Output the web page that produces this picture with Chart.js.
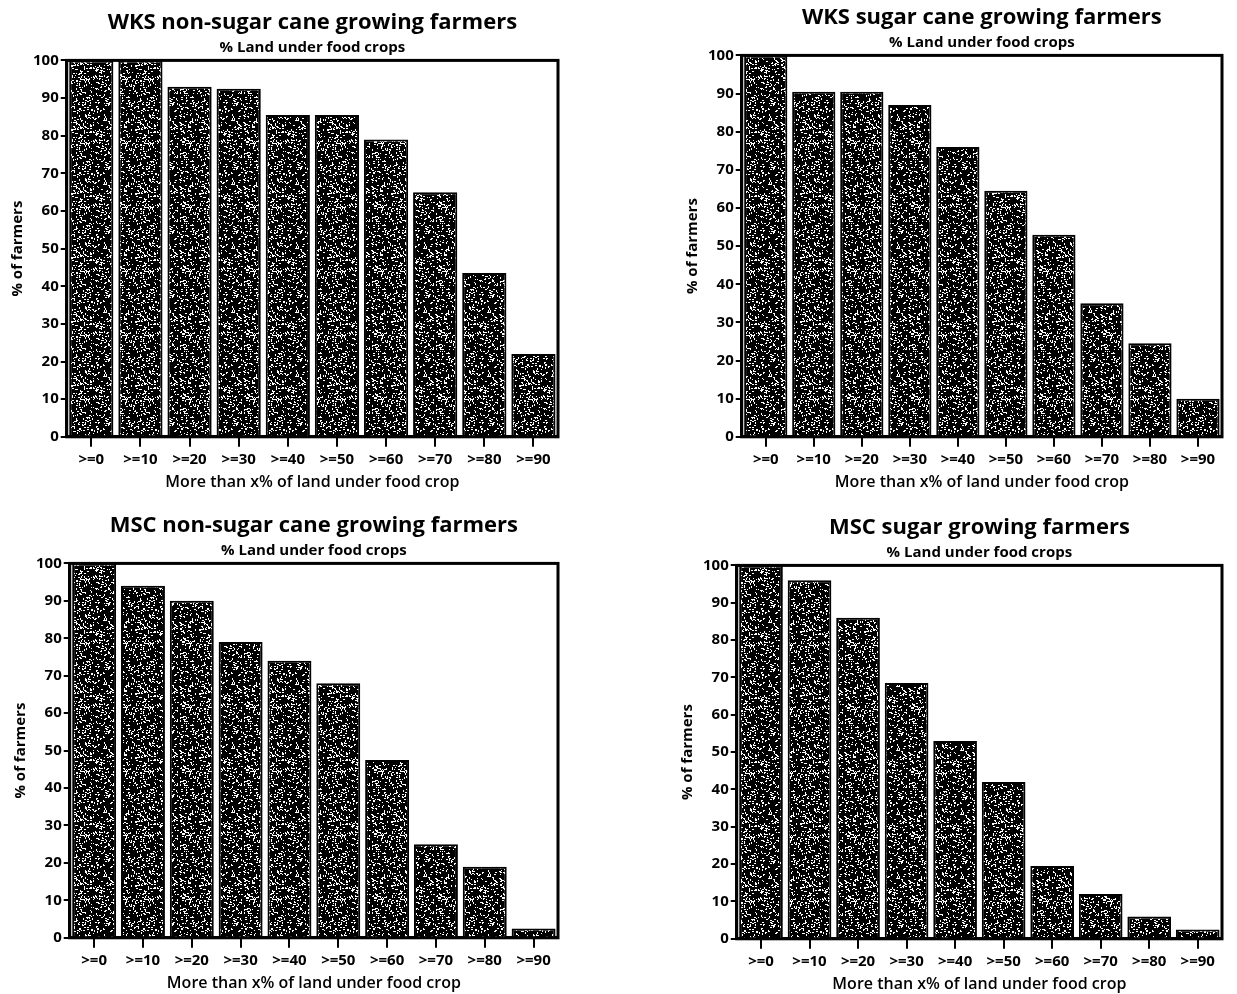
<!DOCTYPE html>
<html>
<head>
<meta charset="utf-8">
<script src="https://cdn.jsdelivr.net/npm/chart.js@4.4.1/dist/chart.umd.min.js"></script>
<style>
  body { margin: 0; background: #fff; width: 1237px; height: 994px; position: relative; overflow: hidden; }
  canvas { position: absolute; }
</style>
</head>
<body>
<canvas id="wksNon" width="578" height="500" style="left:0px;top:0px"></canvas>
<canvas id="wksSug" width="572" height="500" style="left:665px;top:0px"></canvas>
<canvas id="mscNon" width="578" height="494" style="left:0px;top:500px"></canvas>
<canvas id="mscSug" width="572" height="492" style="left:665px;top:502px"></canvas>
<script>
const categories = ['>=0', '>=10', '>=20', '>=30', '>=40', '>=50', '>=60', '>=70', '>=80', '>=90'];

// % of farmers
const wksNonSugar = [100, 100, 93, 92.5, 85.5, 85.5, 79, 65, 43.5, 22];
const wksSugar = [100, 90.5, 90.5, 87, 76, 64.5, 53, 35, 24.5, 10];
const mscNonSugar = [100, 94, 90, 79, 74, 68, 47.5, 25, 19, 2.5];
const mscSugar = [100, 96, 86, 68.5, 53, 42, 19.5, 12, 6, 2.5];

const subtitleText = '% Land under food crops';
const xTitle = 'More than x% of land under food crop';
const yTitle = '% of farmers';

Chart.defaults.font.family = "'Open Sans', 'DejaVu Sans', sans-serif";
Chart.defaults.color = '#000';

// black fill with little white flecks, like the printed screen
function makeStipple() {
  const size = 64;
  const c = document.createElement('canvas');
  c.width = size; c.height = size;
  const g = c.getContext('2d');
  g.fillStyle = '#000';
  g.fillRect(0, 0, size, size);
  g.fillStyle = '#fff';
  let s = 987654;
  const next = () => {
    s = (Math.imul(s, 1664525) + 1013904223) >>> 0;
    return s >>> 16;
  };
  for (let i = 0; i < 520; i++) {
    const x = next() % size;
    const y = next() % size;
    const k = next() % 3;
    if (k === 0) g.fillRect(x, y, 2, 1);
    else if (k === 1) g.fillRect(x, y, 1, 2);
    else g.fillRect(x, y, 1, 1);
  }
  return g.createPattern(c, 'repeat');
}
const stipple = makeStipple();

const frame = {
  id: 'frame',
  afterDatasetsDraw(chart) {
    const a = chart.chartArea;
    const ctx = chart.ctx;
    ctx.save();
    ctx.strokeStyle = '#000';
    ctx.lineWidth = 3;
    ctx.strokeRect(a.left, a.top, a.right - a.left, a.bottom - a.top);
    ctx.restore();
  }
};

function drawPanel(id, title, values, pad) {
  new Chart(document.getElementById(id), {
    type: 'bar',
    data: {
      labels: categories,
      datasets: [{
        data: values,
        backgroundColor: stipple,
        borderColor: '#000',
        borderWidth: 2,
        barPercentage: 0.9,
        categoryPercentage: 1
      }]
    },
    options: {
      responsive: false,
      animation: false,
      layout: { padding: pad },
      plugins: {
        legend: { display: false },
        tooltip: { enabled: false },
        title: {
          display: true,
          text: title,
          fullSize: false,
          color: '#000',
          font: { size: 22, weight: 'bold' },
          padding: { top: 2, bottom: 2 }
        },
        subtitle: {
          display: true,
          text: subtitleText,
          fullSize: false,
          color: '#000',
          font: { size: 15, weight: 'bold' },
          padding: { top: 0, bottom: 4 }
        }
      },
      scales: {
        x: {
          border: { color: '#000', width: 3 },
          grid: { drawOnChartArea: false, offset: false, tickLength: 10, color: '#000', lineWidth: 2 },
          ticks: { color: '#000', font: { size: 15, weight: 'bold' }, maxRotation: 0, autoSkip: false, padding: 4 },
          title: { display: true, text: xTitle, color: '#000', font: { size: 16, weight: '600' }, padding: { top: 0, bottom: 0 } }
        },
        y: {
          min: 0,
          max: 100,
          border: { color: '#000', width: 3 },
          grid: { drawOnChartArea: false, tickLength: 6, color: '#000', lineWidth: 2 },
          ticks: { stepSize: 10, color: '#000', font: { size: 15, weight: 'bold' }, padding: 2 },
          title: { display: true, text: yTitle, color: '#000', font: { size: 15, weight: 'bold' }, padding: { top: 0, bottom: 4 } }
        }
      }
    },
    plugins: [frame]
  });
}

drawPanel('wksNon', 'WKS non-sugar cane growing farmers', wksNonSugar, { left: 9, right: 20, top: 8, bottom: 8 });
drawPanel('wksSug', 'WKS sugar cane growing farmers', wksSugar, { left: 19, right: 15, top: 3, bottom: 8 });
drawPanel('mscNon', 'MSC non-sugar cane growing farmers', mscNonSugar, { left: 12, right: 20, top: 11, bottom: 1 });
drawPanel('mscSug', 'MSC sugar growing farmers', mscSugar, { left: 14, right: 15, top: 11, bottom: 0 });
</script>
</body>
</html>
